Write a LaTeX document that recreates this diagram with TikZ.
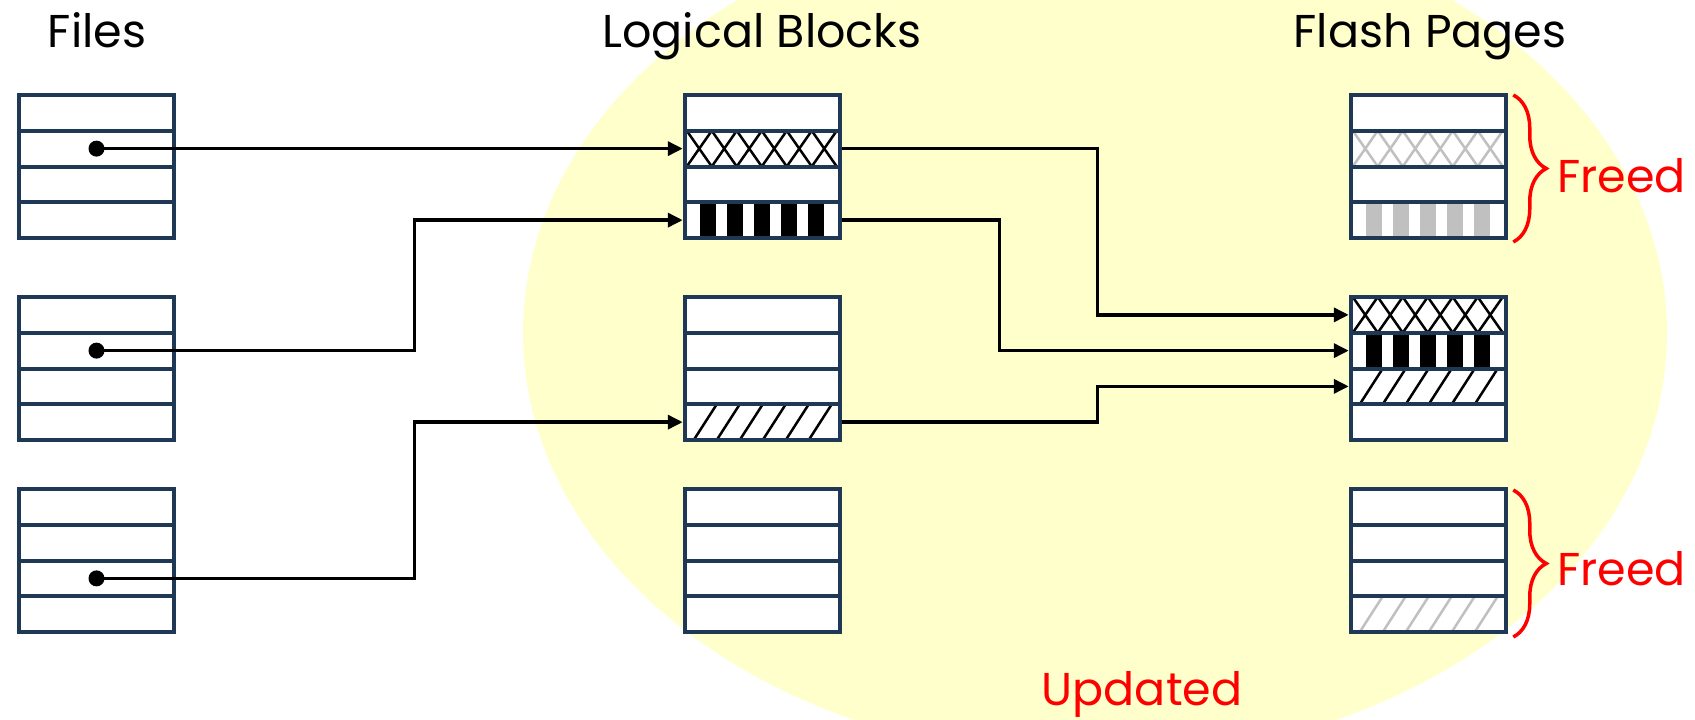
\documentclass[tikz,border=0pt]{standalone}
\usepackage{fontspec}
\setmainfont{Poppins}
\usetikzlibrary{arrows.meta,calc,decorations.pathreplacing}
\definecolor{navy}{RGB}{31,56,86}
\definecolor{paleyellow}{RGB}{255,255,204}
\definecolor{freedgray}{RGB}{192,192,192}
\definecolor{alertred}{RGB}{255,0,0}

\tikzset{
  cell/.style={draw=navy,line width=4pt,fill=white,minimum width=155.5pt,
    minimum height=35.75pt,inner sep=0pt},
  % crossed zig-zag: a row of touching X shapes
  xpat/.style={path picture={
    \foreach \k in {0,...,5}{
      \draw[line width=2.5pt,#1] ($(path picture bounding box.north west)+(2+25*\k,0)$) -- ++(25,35.75);
      \draw[line width=2.5pt,#1] ($(path picture bounding box.south west)+(2+25*\k,0)$) -- ++(25,-35.75);
    }}},
  % vertical solid bars
  barpat/.style={path picture={
    \foreach \k in {0,...,4}{
      \fill[#1] ($(path picture bounding box.north west)+(15+27*\k,0)$) rectangle ++(16,35.75);
    }}},
  % forward slashes
  hatchpat/.style={path picture={
    \foreach \k in {0,...,5}{
      \draw[line width=2.5pt,#1] ($(path picture bounding box.south west)+(9+23*\k,0)$) -- ++(23,-35.75);
    }}},
  conn/.style={line width=3.5pt,black,-{Triangle[length=15pt,width=14pt]}},
  dot/.style={circle,fill=black,inner sep=0pt,minimum size=16pt},
  title/.style={font=\fontsize{46}{55}\selectfont,text=black,inner sep=0pt},
  redlabel/.style={font=\fontsize{46}{55}\selectfont,text=alertred,inner sep=0pt},
  freedbrace/.style={alertred,line width=3.5pt,decorate,decoration={brace,amplitude=33pt,aspect=0.5}},
}

% a stack of four cells: name, centre x, top y, styles of rows 1..4
\newcommand\stackblock[7]{%
  \node[cell,#4] (#1r1) at (#2,#3+19.875) {};
  \node[cell,#5] (#1r2) at (#2,#3+55.625) {};
  \node[cell,#6] (#1r3) at (#2,#3+91.375) {};
  \node[cell,#7] (#1r4) at (#2,#3+127.125) {};
}

\begin{document}
\begin{tikzpicture}[x=1pt,y=-1pt]
  \useasboundingbox (0,0) rectangle (1695,720);
  \clip (0,0) rectangle (1695,720);

  % shaded region of the update
  \fill[paleyellow] (1095,333) ellipse [x radius=572, y radius=426.5];

  % column headings
  \node[title,anchor=base] (tFiles) at (97,47) {Files};
  \node[title,anchor=base] (tLogical) at (762,47) {Logical Blocks};
  \node[title,anchor=base] (tFlash) at (1430,47) {Flash Pages};

  % files
  \stackblock{F1}{96.5}{93}{}{}{}{}
  \stackblock{F2}{96.5}{295}{}{}{}{}
  \stackblock{F3}{96.5}{487}{}{}{}{}

  % logical blocks
  \stackblock{L1}{762.5}{93}{}{xpat=black}{}{barpat=black}
  \stackblock{L2}{762.5}{295}{}{}{}{hatchpat=black}
  \stackblock{L3}{762.5}{487}{}{}{}{}

  % flash pages
  \stackblock{P1}{1428.5}{93}{}{xpat=freedgray}{}{barpat=freedgray}
  \stackblock{P2}{1428.5}{295}{xpat=black}{barpat=black}{hatchpat=black}{}
  \stackblock{P3}{1428.5}{487}{}{}{}{hatchpat=freedgray}

  % pointers held by the files
  \node[dot] (d1) at (F1r2.center) {};
  \node[dot] (d2) at (F2r2.center) {};
  \node[dot] (d3) at (F3r3.center) {};

  \draw[conn] (d1.center) -- (L1r2.west);
  \draw[conn] (d2.center) -- ++(318,0) |- (L1r4.west);
  \draw[conn] (d3.center) -- ++(318,0) |- (L2r4.west);

  % logical block to flash page mapping
  \draw[conn] (L1r2.east) -- ++(255,0) |- (P2r1.west);
  \draw[conn] (L1r4.east) -- ++(157,0) |- (P2r2.west);
  \draw[conn] (L2r4.east) -- ++(255,0) |- (P2r3.west);

  % freed pages
  \coordinate (fa1) at ($(P1r1.north east)+(5,2)$);
  \coordinate (fa2) at ($(P1r4.south east)+(5,2)$);
  \coordinate (fb1) at ($(P3r1.north east)+(5,3)$);
  \coordinate (fb2) at ($(P3r4.south east)+(5,3)$);
  \draw[freedbrace] (fa1) -- (fa2);
  \draw[freedbrace] (fb1) -- (fb2);
  \node[redlabel,anchor=base west] (freedA) at (1557,192) {Freed};
  \node[redlabel,anchor=base west] (freedB) at (1557,585) {Freed};

  \node[redlabel,anchor=base] (tUpdated) at (1142,705) {Updated};
\end{tikzpicture}
\end{document}
